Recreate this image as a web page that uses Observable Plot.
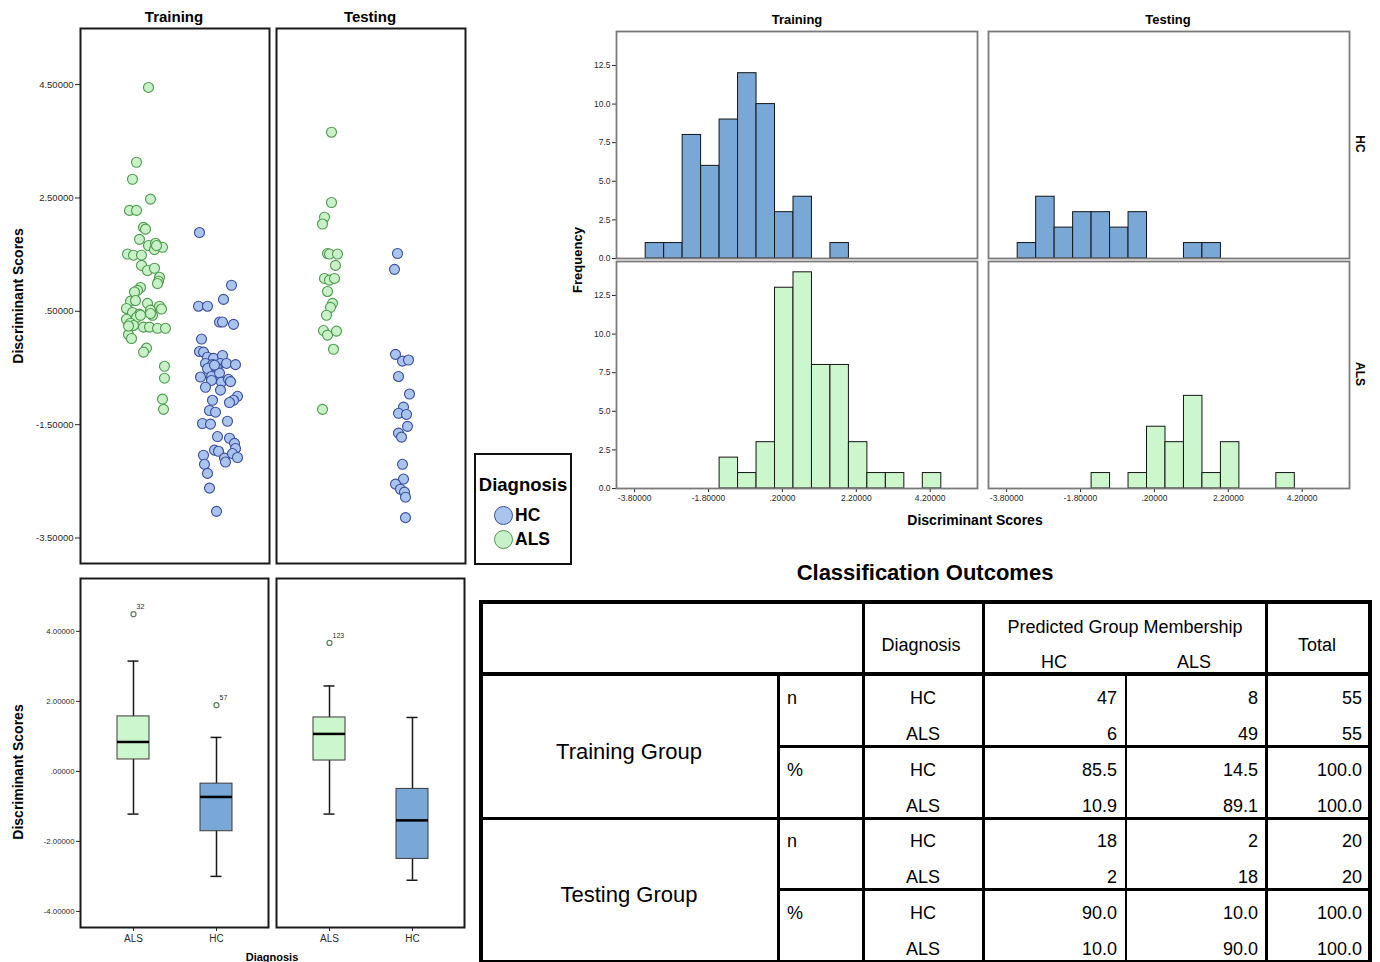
<!DOCTYPE html>
<html><head><meta charset="utf-8">
<script src="https://cdn.jsdelivr.net/npm/d3@7"></script>
<script src="https://cdn.jsdelivr.net/npm/@observablehq/plot@0.6"></script>
<style>
html,body{margin:0;padding:0;background:#fff;}
#page{position:relative;width:1380px;height:962px;overflow:hidden;background:#fff;}
</style></head><body><div id="page"></div>
<script>
// ---------------- DATA ----------------
// Scatter (jitter position within panel, discriminant score)
const trainALS_x = [68,56,52,70,49,56,63,65,59,68,75,74,82,47,53,61,61,67,74,79,78,77,60,57,54,50,46,52,59,56,46,50,53,67,70,72,79,81,63,69,77,85,48,51,66,63,84,84,82,83,76,60,48,55,70];
const trainALS_v = [4.45,3.13,2.83,2.48,2.28,2.28,1.98,1.95,1.77,1.66,1.70,1.59,1.63,1.51,1.49,1.49,1.31,1.22,1.26,1.10,1.03,0.99,0.92,0.87,0.84,0.68,0.55,0.48,0.45,0.39,0.36,0.29,0.25,0.64,0.52,0.43,0.59,0.54,0.22,0.22,0.20,0.20,0.09,0.02,-0.15,-0.22,-0.47,-0.68,-1.05,-1.23,1.66,0.43,0.24,0.69,0.46];
const trainHC_x = [119,151,143,118,127,139,142,153,121,119,123,127,133,142,125,132,140,146,155,127,136,120,131,139,131,141,148,150,125,140,157,153,149,132,129,135,147,122,130,137,149,154,155,134,138,123,144,145,152,157,124,127,129,136,134];
const trainHC_v = [1.89,0.96,0.71,0.59,0.59,0.31,0.31,0.27,0.01,-0.21,-0.22,-0.31,-0.33,-0.28,-0.42,-0.44,-0.42,-0.42,-0.44,-0.51,-0.49,-0.66,-0.65,-0.59,-0.72,-0.75,-0.70,-0.74,-0.84,-0.89,-1.00,-1.07,-1.11,-1.07,-1.25,-1.28,-1.44,-1.48,-1.49,-1.71,-1.74,-1.83,-1.92,-1.95,-1.97,-2.04,-2.09,-2.16,-2.01,-2.08,-2.20,-2.36,-2.62,-3.03,-0.45];
const testALS_x = [55,55,48,46,51,53,61,59,48,53,58,51,56,54,50,47,51,60,57,46];
const testALS_v = [3.66,2.42,2.16,2.04,1.52,1.51,1.51,1.31,1.08,1.05,1.08,0.85,0.64,0.57,0.43,0.16,0.08,0.15,-0.17,-1.23];
const testHC_x = [121,118,119,126,132,122,133,127,122,130,131,122,125,126,127,119,124,128,129,129];
const testHC_v = [1.52,1.24,-0.26,-0.38,-0.36,-0.65,-0.96,-1.19,-1.30,-1.32,-1.53,-1.65,-1.72,-2.20,-2.46,-2.55,-2.64,-2.69,-2.78,-3.14];
const scatterTicks = [4.5, 2.5, 0.5, -1.5, -3.5];

// Boxplots
const boxGroups = ["ALS", "HC"];
const trainBox = {q1: [0.34, -1.71], med: [0.84, -0.73], q3: [1.57, -0.35], lo: [-1.22, -3.00], hi: [3.15, 0.97]};
const testBox  = {q1: [0.31, -2.50], med: [1.07, -1.40], q3: [1.54, -0.50], lo: [-1.22, -3.11], hi: [2.44, 1.54]};
const trainOutG = ["ALS", "HC"], trainOutV = [4.49, 1.89], trainOutId = ["32", "57"];
const testOutG = ["ALS"], testOutV = [3.67], testOutId = ["123"];
const boxTicks = [4, 2, 0, -2, -4];

// Histograms (bin left edges, counts; bin width 0.5)
const BIN = 0.5;
const histTrainHC_start = [-3.5,-3.0,-2.5,-2.0,-1.5,-1.0,-0.5,0.0,0.5,1.5];
const histTrainHC_n     = [1,1,8,6,9,12,10,3,4,1];
const histTrainALS_start = [-1.5,-1.0,-0.5,0.0,0.5,1.0,1.5,2.0,2.5,3.0,4.0];
const histTrainALS_n     = [2,1,3,13,14,8,8,3,1,1,1];
const histTestHC_start = [-3.5,-3.0,-2.5,-2.0,-1.5,-1.0,-0.5,1.0,1.5];
const histTestHC_n     = [1,4,2,3,3,2,3,1,1];
const histTestALS_start = [-1.5,-0.5,0.0,0.5,1.0,1.5,2.0,3.5];
const histTestALS_n     = [1,1,4,3,6,1,3,1];
const histXTicks = [-3.8, -1.8, 0.2, 2.2, 4.2];
const histYTicks = [0, 2.5, 5, 7.5, 10, 12.5];

// Classification table
const tableGroups = ["Training Group", "Testing Group"];
const tableStats = ["n", "%"];
const tableDiag = ["HC", "ALS"];
const predHC  = [47, 6, 85.5, 10.9, 18, 2, 90.0, 10.0];
const predALS = [8, 49, 14.5, 89.1, 2, 18, 10.0, 90.0];
const totals  = [55, 55, 100.0, 100.0, 20, 20, 100.0, 100.0];

// ---------------- STYLE ----------------
const FONT = '"Liberation Sans", Arial, Helvetica, sans-serif';
const ALS_FILL = "#c8f1c8", ALS_STROKE = "#4e9a4e";
const HC_FILL = "#a9c5ee", HC_STROKE = "#3b4d9c";
const ALS_BOX = "#ccf7cc", HC_BOX = "#79a7d6";
const page = document.getElementById("page");
const baseStyle = {background: "transparent", overflow: "visible", fontFamily: FONT, color: "#2a2a2a"};

const spss = d => d.toFixed(5).replace(/^(-?)0\./, "$1.");

function addText(str, x, y, o = {}) {
  const d = document.createElement("div");
  d.textContent = str;
  const tx = o.anchor === "start" ? "0%" : o.anchor === "end" ? "-100%" : "-50%";
  Object.assign(d.style, {
    position: "absolute", left: x + "px", top: y + "px", whiteSpace: "nowrap",
    lineHeight: "1", fontFamily: FONT, fontSize: (o.size || 12) + "px",
    fontWeight: o.weight || "normal", color: o.color || "#000",
    transform: `translate(${tx},-50%)` + (o.rotate ? ` rotate(${o.rotate}deg)` : "")
  });
  page.appendChild(d);
}
function addRect(x, y, w, h, css = {}) {
  const d = document.createElement("div");
  Object.assign(d.style, {position: "absolute", left: x + "px", top: y + "px", width: w + "px", height: h + "px", background: "#000", boxSizing: "border-box"}, css);
  page.appendChild(d);
}
function place(el, x, y) {
  el.style.position = "absolute"; el.style.left = x + "px"; el.style.top = y + "px";
  page.appendChild(el);
}

// ---------------- SCATTER ----------------
function scatter(ax, av, hx, hv, showY, ml) {
  const als = ax.map((x, i) => ({x, v: av[i]}));
  const hc = hx.map((x, i) => ({x, v: hv[i]}));
  return Plot.plot({
    width: ml + 189 + 3, height: 28 + 535 + 3,
    marginLeft: ml, marginRight: 3, marginTop: 28, marginBottom: 3,
    style: baseStyle,
    x: {domain: [0, 189], axis: null},
    y: Object.assign({domain: [-3.95, 5.49]}, showY ? {} : {axis: null}),
    marks: [
      showY ? Plot.axisY({ticks: scatterTicks, tickFormat: spss, tickSize: 5, tickPadding: 2, fontSize: 9.5, label: null}) : null,
      Plot.dot(als, {x: "x", y: "v", r: 5, fill: ALS_FILL, stroke: ALS_STROKE, strokeWidth: 1.1}),
      Plot.dot(hc, {x: "x", y: "v", r: 5, fill: HC_FILL, stroke: HC_STROKE, strokeWidth: 1.1}),
      Plot.frame({stroke: "#1a1a1a", strokeWidth: 2})
    ].filter(Boolean)
  });
}
place(scatter(trainALS_x, trainALS_v, trainHC_x, trainHC_v, true, 80), 0, 0);
place(scatter(testALS_x, testALS_v, testHC_x, testHC_v, false, 3), 273, 0);
addText("Training", 174, 16, {size: 15, weight: "bold"});
addText("Testing", 370, 16, {size: 15, weight: "bold"});
addText("Discriminant Scores", 18, 296, {size: 14, weight: "bold", rotate: -90});

// Legend
addRect(474, 453, 98, 112, {background: "#fff", border: "2px solid #111"});
addText("Diagnosis", 523, 485, {size: 18.5, weight: "bold"});
function legendDot(cx, cy, fill, stroke) {
  addRect(cx - 9.5, cy - 9.5, 19, 19, {background: fill, border: `1.5px solid ${stroke}`, borderRadius: "50%"});
}
legendDot(503, 515, HC_FILL, HC_STROKE);
legendDot(503, 539, ALS_FILL, ALS_STROKE);
addText("HC", 515, 516, {size: 17.5, weight: "bold", anchor: "start"});
addText("ALS", 515, 540, {size: 17.5, weight: "bold", anchor: "start"});

// ---------------- BOXPLOTS ----------------
function boxPanel(st, og, ov, oid, showY, ml) {
  const rows = boxGroups.map((g, i) => ({g, q1: st.q1[i], med: st.med[i], q3: st.q3[i], lo: st.lo[i], hi: st.hi[i]}));
  const outl = og.map((g, i) => ({g, v: ov[i], id: oid[i]}));
  return Plot.plot({
    width: ml + 188 + 3, height: 3 + 349 + 25,
    marginLeft: ml, marginRight: 3, marginTop: 3, marginBottom: 25,
    style: baseStyle,
    x: {type: "band", domain: boxGroups, paddingInner: 0.619, paddingOuter: 0.4286},
    y: Object.assign({domain: [-4.46, 5.51]}, showY ? {} : {axis: null}),
    color: {domain: boxGroups, range: [ALS_BOX, HC_BOX]},
    marks: [
      Plot.axisX({tickSize: 4, tickPadding: 3, fontSize: 10, label: null}),
      showY ? Plot.axisY({ticks: boxTicks, tickFormat: spss, tickSize: 4, tickPadding: 2, fontSize: 7.8, label: null}) : null,
      Plot.ruleX(rows, {x: "g", y1: "lo", y2: "hi", stroke: "#1a1a1a", strokeWidth: 1.5}),
      Plot.tickY(rows, {x: "g", y: "lo", stroke: "#1a1a1a", strokeWidth: 1.5, insetLeft: 10.5, insetRight: 10.5}),
      Plot.tickY(rows, {x: "g", y: "hi", stroke: "#1a1a1a", strokeWidth: 1.5, insetLeft: 10.5, insetRight: 10.5}),
      Plot.barY(rows, {x: "g", y1: "q1", y2: "q3", fill: "g", stroke: "#3a3a3a", strokeWidth: 1}),
      Plot.tickY(rows, {x: "g", y: "med", stroke: "#000", strokeWidth: 2.5}),
      Plot.dot(outl, {x: "g", y: "v", r: 2.5, fill: "#fff", stroke: "#5d7d5d", strokeWidth: 1.2}),
      Plot.text(outl, {x: "g", y: "v", text: "id", dx: 3, dy: -7, textAnchor: "start", fontSize: 7}),
      Plot.frame({stroke: "#1a1a1a", strokeWidth: 2})
    ].filter(Boolean)
  });
}
place(boxPanel(trainBox, trainOutG, trainOutV, trainOutId, true, 80), 0, 575);
place(boxPanel(testBox, testOutG, testOutV, testOutId, false, 3), 273, 575);
addText("Discriminant Scores", 18, 772, {size: 14, weight: "bold", rotate: -90});
addText("Diagnosis", 272, 957, {size: 11, weight: "bold"});

// ---------------- HISTOGRAMS ----------------
function hist(starts, counts, fill, showX, showY, ml, mb) {
  const rows = starts.map((s, i) => ({x0: s, x1: s + BIN, base: 0, n: counts[i]}));
  return Plot.plot({
    width: ml + 361 + 3, height: 3 + 227 + mb,
    marginLeft: ml, marginRight: 3, marginTop: 3, marginBottom: mb,
    style: baseStyle,
    x: Object.assign({domain: [-4.29, 5.48]}, showX ? {} : {axis: null}),
    y: Object.assign({domain: [0, 14.7]}, showY ? {} : {axis: null}),
    marks: [
      showX ? Plot.axisX({ticks: histXTicks, tickFormat: spss, tickSize: 4, tickPadding: 2, fontSize: 8.5, label: null}) : null,
      showY ? Plot.axisY({ticks: histYTicks, tickFormat: d => d.toFixed(1), tickSize: 4, tickPadding: 2, fontSize: 8.5, label: null}) : null,
      Plot.rect(rows, {x1: "x0", x2: "x1", y1: "base", y2: "n", fill, stroke: "#151515", strokeWidth: 1}),
      Plot.frame({stroke: "#7a7a7a", strokeWidth: 1.8})
    ].filter(Boolean)
  });
}
place(hist(histTrainHC_start, histTrainHC_n, HC_BOX, false, true, 40, 3), 576, 28);
place(hist(histTestHC_start, histTestHC_n, HC_BOX, false, false, 3, 3), 985, 28);
place(hist(histTrainALS_start, histTrainALS_n, ALS_BOX, true, true, 40, 22), 576, 258);
place(hist(histTestALS_start, histTestALS_n, ALS_BOX, true, false, 3, 22), 985, 258);
addText("Training", 797, 19, {size: 13, weight: "bold"});
addText("Testing", 1168, 19, {size: 13, weight: "bold"});
addText("HC", 1360, 144, {size: 12, weight: "bold", rotate: 90});
addText("ALS", 1360, 374, {size: 12, weight: "bold", rotate: 90});
addText("Frequency", 577, 260, {size: 13, weight: "bold", rotate: -90});
addText("Discriminant Scores", 975, 520, {size: 14, weight: "bold"});

// ---------------- TABLE ----------------
addText("Classification Outcomes", 925, 573, {size: 22, weight: "bold"});
// outer border
addRect(479, 600, 893, 4);
addRect(479, 600, 4, 364);
addRect(1368, 600, 4, 364);
addRect(479, 960, 893, 4);
// vertical lines
addRect(776.5, 673, 3, 290);
addRect(861.5, 600, 3, 363);
addRect(981.5, 600, 3, 363);
addRect(1125, 673, 2, 290);
addRect(1264.5, 600, 3, 363);
// horizontal lines
addRect(479, 672, 893, 4);
addRect(778, 744.5, 594, 3);
addRect(479, 816.5, 893, 3);
addRect(778, 887.5, 594, 3);
// header
addText("Diagnosis", 921, 645, {size: 18});
addText("Predicted Group Membership", 1125, 627, {size: 18});
addText("HC", 1054, 662, {size: 18});
addText("ALS", 1194, 662, {size: 18});
addText("Total", 1317, 645, {size: 18});
// body
const rowTop = 674, rowStep = 35.85, rowOffset = 24;
tableGroups.forEach((g, gi) => {
  addText(g, 629, rowTop + rowOffset + (gi * 4 + 1.5) * rowStep, {size: 22});
  tableStats.forEach((s, si) => {
    addText(s, 787, rowTop + rowOffset + (gi * 4 + si * 2) * rowStep, {size: 18, anchor: "start"});
    tableDiag.forEach((d, di) => {
      const i = gi * 4 + si * 2 + di;
      const y = rowTop + rowOffset + i * rowStep;
      const fmt = v => s === "%" ? v.toFixed(1) : String(v);
      addText(d, 923, y, {size: 18});
      addText(fmt(predHC[i]), 1117, y, {size: 18, anchor: "end"});
      addText(fmt(predALS[i]), 1258, y, {size: 18, anchor: "end"});
      addText(fmt(totals[i]), 1362, y, {size: 18, anchor: "end"});
    });
  });
});
</script></body></html>
